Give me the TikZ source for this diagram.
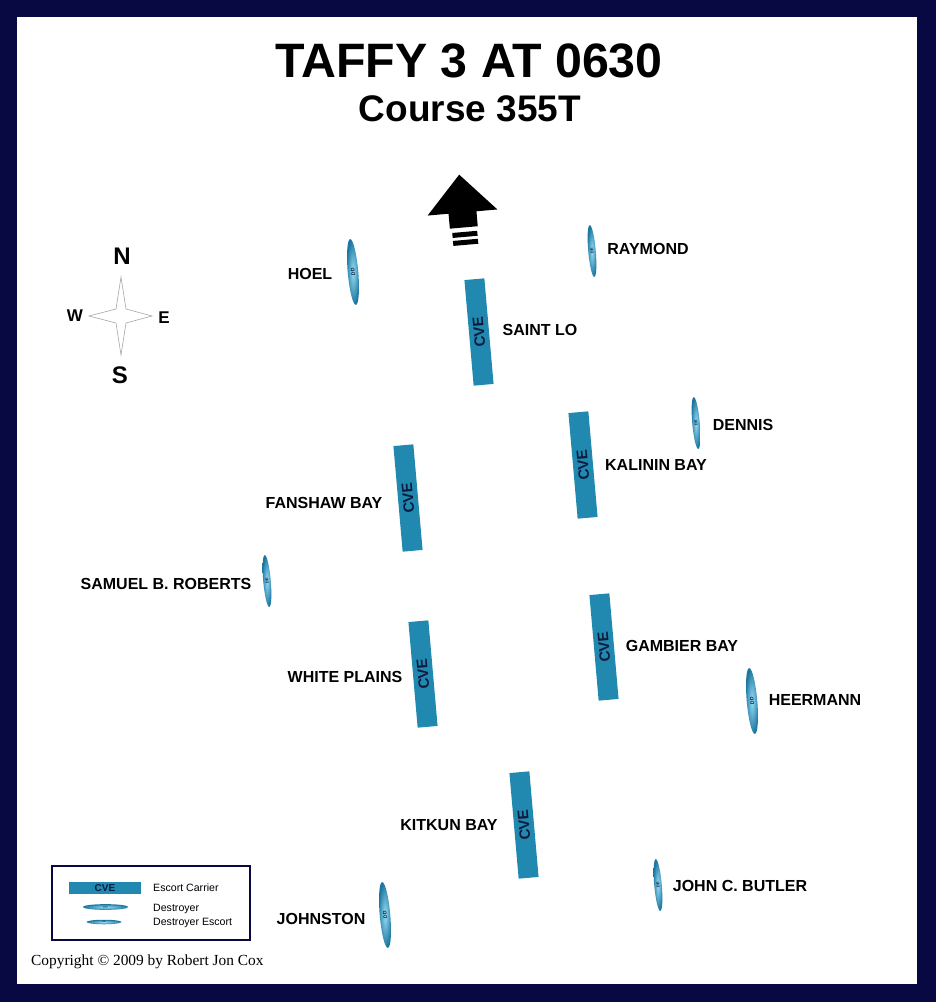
\documentclass[tikz,border=0pt]{standalone}
\usepackage{fontspec}
\setmainfont{Liberation Sans}
\newfontfamily\crfont{Liberation Serif}
\usetikzlibrary{shapes.geometric}
\definecolor{navy}{RGB}{8,8,66}
\definecolor{cvefill}{RGB}{33,137,176}
\definecolor{cvetext}{RGB}{12,28,62}
\definecolor{shipdark}{RGB}{28,118,160}
\definecolor{shiplight}{RGB}{150,220,244}
\begin{document}
\begin{tikzpicture}[x=1pt,y=-1pt,
  cve/.style={rectangle, fill=cvefill, rotate=95, minimum width=106pt, minimum height=20pt,
    inner sep=0pt, text=cvetext, font=\bfseries\fontsize{15}{15}\selectfont},
  ddship/.style={ellipse, rotate=95, minimum width=66pt, minimum height=10.5pt, inner sep=0pt,
    inner color=shiplight, outer color=shipdark, text=cvetext, font=\bfseries\fontsize{5}{5}\selectfont},
  deship/.style={ddship, minimum width=52pt, minimum height=7.5pt, font=\bfseries\fontsize{4}{4}\selectfont},
  lbl/.style={inner sep=0pt, font=\bfseries\fontsize{16}{16}\selectfont},
  cmp/.style={inner sep=0pt, font=\bfseries\fontsize{24}{24}\selectfont},
  cmpsmall/.style={inner sep=0pt, font=\bfseries\fontsize{17}{17}\selectfont},
  legtext/.style={inner sep=0pt, anchor=base west, font=\fontsize{10.6}{10.6}\selectfont},
]
% frame
\fill[navy] (0,0) rectangle (936,1002);
\fill[white] (17,17) rectangle (917,984);

% title
\node[inner sep=0pt, font=\bfseries\fontsize{48.3}{48}\selectfont] (title) at (469,61) {TAFFY 3 AT 0630};
\node[inner sep=0pt, font=\bfseries\fontsize{37}{37}\selectfont] (course) at (470,109) {Course 355T};

% heading arrow
\begin{scope}[shift={(462.5,212.5)}, rotate=5]
  \fill[black] (0,-38) -- (35,0) -- (14,0) -- (14,15) -- (-14,15) -- (-14,0) -- (-35,0) -- cycle;
  \fill[black] (-12,19.5) rectangle (13,24.5);
  \fill[black] (-12,27.5) rectangle (13,32.5);
\end{scope}

% compass
\draw[gray!70, line width=0.6pt, fill=white]
  (121,277) -- (126,309) -- (152,316) -- (126,323) -- (121,355) -- (116,323) -- (89,316) -- (116,309) -- cycle;
\node[cmp] (N) at (122,256) {N};
\node[cmp] (S) at (120,375) {S};
\node[cmpsmall] (W) at (75,316) {W};
\node[cmpsmall] (E) at (164,318) {E};

% escort carriers
\node[cve] (stlo) at (479,332) {CVE};
\node[cve] (kalinin) at (583,465) {CVE};
\node[cve] (fanshaw) at (408,498) {CVE};
\node[cve] (gambier) at (604,647) {CVE};
\node[cve] (white) at (423,674) {CVE};
\node[cve] (kitkun) at (524,825) {CVE};

% destroyers
\node[ddship] (hoel) at (353,272) {DD};
\node[ddship] (heermann) at (752,701) {DD};
\node[ddship] (johnston) at (385,915) {DD};

% destroyer escorts
\node[deship] (raymond) at (592,251) {DE};
\node[deship] (dennis) at (696,423) {DE};
\node[deship] (roberts) at (267,581) {DE};
\node[deship] (butler) at (658,885) {DE};

% labels
\node[lbl] (lhoel) at (310,274) {HOEL};
\node[lbl] (lraymond) at (648,249) {RAYMOND};
\node[lbl] (lstlo) at (540,330) {SAINT LO};
\node[lbl] (ldennis) at (743,425) {DENNIS};
\node[lbl] (lkalinin) at (656,465) {KALININ BAY};
\node[lbl] (lfanshaw) at (324,503) {FANSHAW BAY};
\node[lbl] (lroberts) at (166,584) {SAMUEL B. ROBERTS};
\node[lbl] (lgambier) at (682,646) {GAMBIER BAY};
\node[lbl] (lwhite) at (345,677) {WHITE PLAINS};
\node[lbl] (lheermann) at (815,700) {HEERMANN};
\node[lbl] (lkitkun) at (449,825) {KITKUN BAY};
\node[lbl] (lbutler) at (740,886) {JOHN C. BUTLER};
\node[lbl] (ljohnston) at (321,919) {JOHNSTON};

% legend
\node[draw=navy, line width=2pt, fill=white, minimum width=198pt, minimum height=74pt, inner sep=0pt] (legend) at (151,903) {};
\node[rectangle, fill=cvefill, minimum width=72pt, minimum height=12.5pt, inner sep=0pt,
  text=cvetext, font=\bfseries\fontsize{10}{10}\selectfont] (legcve) at (105,888) {CVE};
\node[ellipse, minimum width=45.5pt, minimum height=5.7pt, inner sep=0pt, inner color=shiplight, outer color=shipdark,
  text=cvetext, font=\fontsize{3}{3}\selectfont] (legdd) at (105.5,907) {DD};
\node[ellipse, minimum width=35pt, minimum height=4.5pt, inner sep=0pt, inner color=shiplight, outer color=shipdark,
  text=cvetext, font=\fontsize{2.5}{2.5}\selectfont] (legde) at (104,922) {DE};
\node[legtext] (legt1) at (153,891.5) {Escort Carrier};
\node[legtext] (legt2) at (153,911) {Destroyer};
\node[legtext] (legt3) at (153,925.5) {Destroyer Escort};

% copyright
\node[inner sep=0pt, anchor=west, font=\crfont\fontsize{15.4}{15.4}\selectfont] (copy) at (31,962) {Copyright © 2009 by Robert Jon Cox};
\end{tikzpicture}
\end{document}
